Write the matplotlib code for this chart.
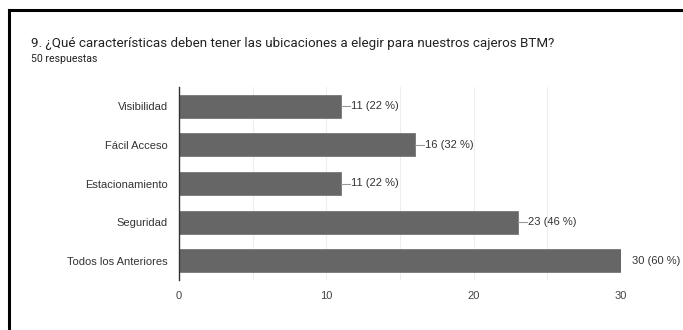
import matplotlib.pyplot as plt
from matplotlib.lines import Line2D

plt.rcParams['font.family'] = ['Liberation Sans', 'DejaVu Sans']

categorias = ['Visibilidad', 'Fácil Acceso', 'Estacionamiento', 'Seguridad', 'Todos los Anteriores']
respuestas = [11, 16, 11, 23, 30]
total = 50

fig = plt.figure(figsize=(6.83, 3.3), dpi=100)
ax = fig.add_axes([179 / 683, 1 - 280 / 330, 442 / 683, 193 / 330])

y = list(range(len(categorias)))
ax.barh(y, respuestas, height=0.6, color='#666666', edgecolor='#777777', linewidth=0.6, zorder=3)
ax.set_ylim(len(categorias) - 0.5, -0.5)
ax.set_xlim(0, 30)
ax.set_yticks(y)
ax.set_yticklabels(categorias, fontsize=8, color='#333333')
ax.set_xticks([0, 10, 20, 30])
ax.set_xticks([5, 15, 25], minor=True)
ax.tick_params(axis='x', which='both', length=0, pad=8, labelsize=8, labelcolor='#444444')
ax.tick_params(axis='y', length=0, pad=8)
ax.grid(axis='x', which='both', color='#eeeeee', linewidth=0.8, zorder=0)
for s in ['top', 'right', 'bottom']:
    ax.spines[s].set_visible(False)
ax.spines['left'].set_color('#333333')
ax.spines['left'].set_linewidth(1.0)
ax.spines['left'].set_zorder(4)

# etiquetas con linea guia
for yi, v in zip(y, respuestas):
    pct = round(v / total * 100)
    if v < max(respuestas):
        ax.plot([v, v + 0.6], [yi, yi], color='#999999', lw=0.8, clip_on=False, zorder=4)
        ax.annotate(f'{v} ({pct} %)', xy=(v, yi), xytext=(7.5, 0), textcoords='offset points',
                    va='center', ha='left', fontsize=8, color='#333333')
    else:
        ax.annotate(f'{v} ({pct} %)', xy=(v, yi), xytext=(8, 0), textcoords='offset points',
                    va='center', ha='left', fontsize=8, color='#333333')

fig.text(31 / 683, 1 - 43 / 330, '9. ¿Qué características deben tener las ubicaciones a elegir para nuestros cajeros BTM?',
         fontsize=9.6, color='#222222', va='center', ha='left', family='Roboto')
fig.text(31 / 683, 1 - 59 / 330, '50 respuestas', fontsize=7.6, color='#222222', va='center', ha='left',
         family='Roboto')

# marco superior e izquierdo
fig.add_artist(Line2D([9 / 683, 1], [1 - 10 / 330, 1 - 10 / 330], color='black', lw=2.2,
                      transform=fig.transFigure))
fig.add_artist(Line2D([9 / 683, 9 / 683], [0, 1 - 10 / 330], color='black', lw=2.2,
                      transform=fig.transFigure))

fig.savefig('out.png', dpi=100)
